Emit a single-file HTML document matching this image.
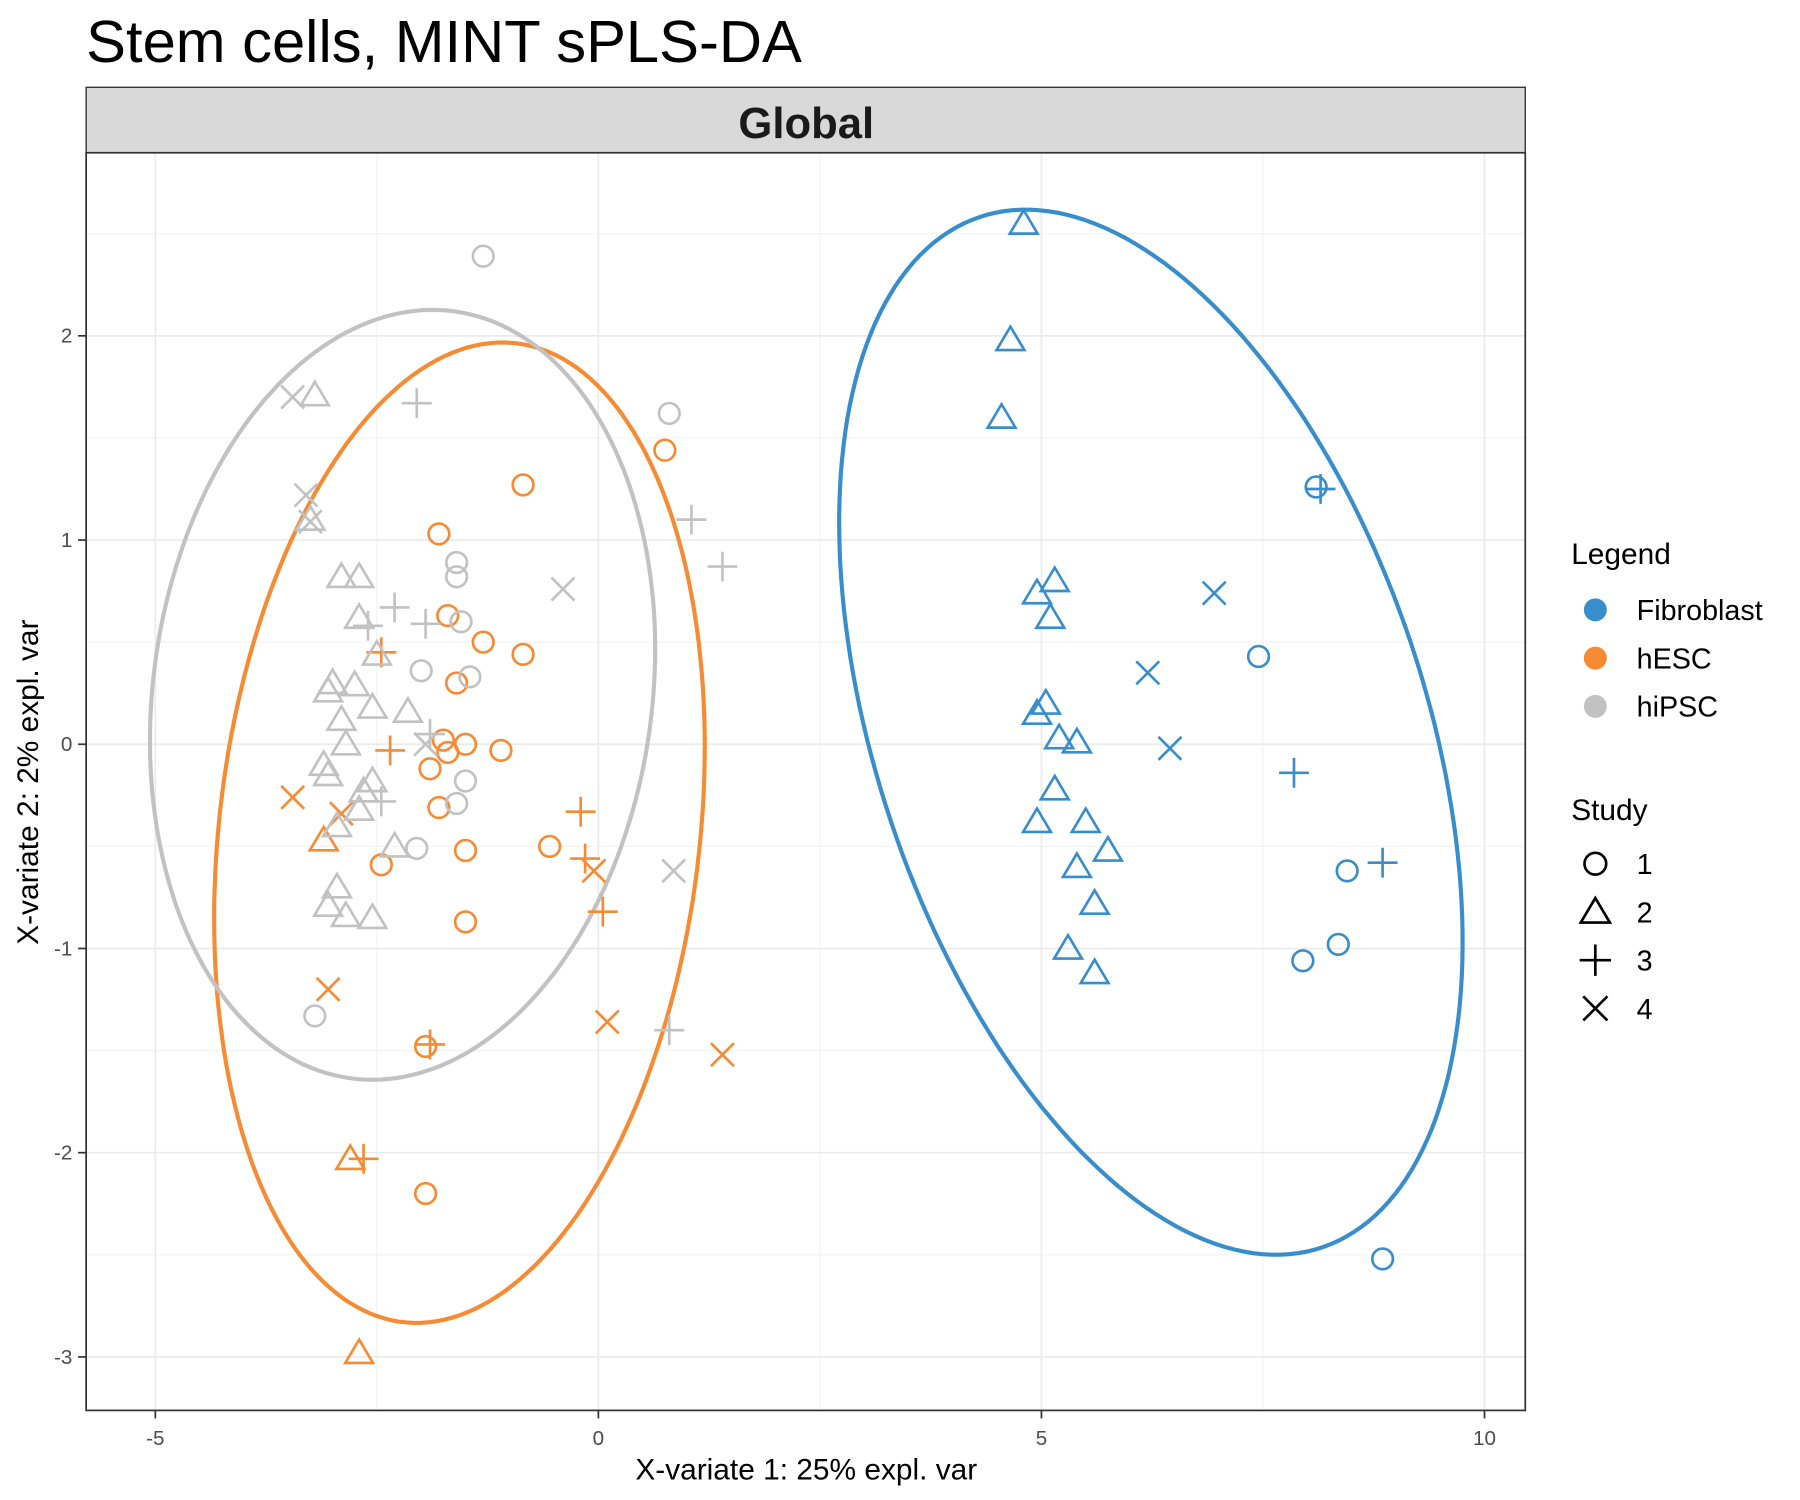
<!DOCTYPE html>
<html><head><meta charset="utf-8"><style>
html,body{margin:0;padding:0;background:#fff;}
svg{display:block;font-family:"Liberation Sans",Arial,sans-serif;}
</style></head><body>
<svg id="chart" width="1800" height="1500" viewBox="0 0 1567.2 1306" xmlns="http://www.w3.org/2000/svg">
<text x="75" y="54" font-size="52">Stem cells, MINT sPLS-DA</text>
<rect x="75" y="76" width="1253" height="57" fill="#d9d9d9" stroke="#333" stroke-width="1.2"/>
<text x="702" y="120" font-size="38" font-weight="bold" text-anchor="middle" fill="#1a1a1a">Global</text>
<g id="grid"></g>
<g id="ellipses"></g>
<g id="points"></g>
<rect x="75" y="133" width="1253" height="1095" fill="none" stroke="#333" stroke-width="1.5"/>
<g id="axes"></g>
<text x="702" y="1288" font-size="26" text-anchor="middle">X-variate 1: 25% expl. var</text>
<text transform="translate(33,681) rotate(-90)" font-size="26" text-anchor="middle">X-variate 2: 2% expl. var</text>
<g id="legend"></g>
</svg>
<script>
const xTicks=[-5,0,5,10];
const yTicks=[2,1,0,-1,-2,-3];
const groups=['Fibroblast','hESC','hiPSC'];
const colors=['#388ECC','#F68B33','#C2C2C2'];
const studies=['1','2','3','4'];
// [x, y, study]
const fibroblastPts=[[8.1,1.26,1],[7.45,0.43,1],[8.45,-0.62,1],[8.35,-0.98,1],[7.95,-1.06,1],[8.85,-2.52,1],
[4.8,2.55,2],[4.65,1.98,2],[4.55,1.6,2],[5.15,0.8,2],[4.95,0.74,2],[5.1,0.62,2],[5.05,0.2,2],[4.95,0.15,2],[5.2,0.03,2],[5.4,0.01,2],[5.15,-0.22,2],[4.95,-0.38,2],[5.5,-0.38,2],[5.75,-0.52,2],[5.4,-0.6,2],[5.6,-0.78,2],[5.3,-1.0,2],[5.6,-1.12,2],
[8.15,1.25,3],[7.85,-0.14,3],[8.85,-0.58,3],
[6.95,0.74,4],[6.2,0.35,4],[6.45,-0.02,4]];
const hescPts=[[0.75,1.44,1],[-0.85,1.27,1],[-1.8,1.03,1],[-1.7,0.63,1],[-1.3,0.5,1],[-0.85,0.44,1],[-1.6,0.3,1],[-1.5,0.0,1],[-1.1,-0.03,1],[-1.75,0.02,1],[-1.7,-0.04,1],[-1.9,-0.12,1],[-1.8,-0.31,1],[-0.55,-0.5,1],[-1.5,-0.52,1],[-2.45,-0.59,1],[-1.5,-0.87,1],[-1.95,-1.48,1],[-1.95,-2.2,1],
[-3.1,-0.47,2],[-2.8,-2.03,2],[-2.7,-2.98,2],
[-2.45,0.45,3],[-2.35,-0.03,3],[-0.2,-0.33,3],[-0.15,-0.56,3],[0.05,-0.82,3],[-1.9,-1.47,3],[-2.65,-2.03,3],
[-3.45,-0.26,4],[-2.9,-0.34,4],[-0.05,-0.62,4],[-3.05,-1.2,4],[0.1,-1.36,4],[1.4,-1.52,4]];
const hipscPts=[[-1.3,2.39,1],[0.8,1.62,1],[-1.6,0.89,1],[-1.6,0.82,1],[-1.55,0.6,1],[-2.0,0.36,1],[-1.45,0.33,1],[-1.5,-0.18,1],[-1.6,-0.29,1],[-2.05,-0.51,1],[-3.2,-1.33,1],
[-3.2,1.71,2],[-3.25,1.1,2],[-2.9,0.82,2],[-2.7,0.82,2],[-2.7,0.62,2],[-2.5,0.44,2],[-3.0,0.3,2],[-3.05,0.26,2],[-2.75,0.29,2],[-2.55,0.18,2],[-2.9,0.12,2],[-3.1,-0.1,2],[-2.85,0.0,2],[-3.05,-0.15,2],[-2.55,-0.18,2],[-2.65,-0.23,2],[-2.7,-0.32,2],[-2.95,-0.4,2],[-2.15,0.16,2],[-2.3,-0.5,2],[-2.95,-0.7,2],[-3.05,-0.79,2],[-2.85,-0.84,2],[-2.55,-0.85,2],
[-2.05,1.67,3],[1.05,1.1,3],[1.4,0.87,3],[-2.3,0.67,3],[-2.6,0.58,3],[-1.95,0.59,3],[-1.9,0.05,3],[-2.45,-0.28,3],[0.8,-1.4,3],
[-3.45,1.7,4],[-3.3,1.22,4],[-3.25,1.09,4],[-0.4,0.76,4],[-1.95,0.0,4],[0.85,-0.62,4]];
// ellipse: center x,y ; conjugate vectors u, w (data units)
const fibroblastEllipse=[6.235,0.059,-1.257,2.556,3.286,-0.122];
const hescEllipse=[-1.568,-0.433,0.428,2.40,2.735,0.05];
const hipscEllipse=[-2.21,0.242,0.246,1.884,2.84,0.062];

const NS='http://www.w3.org/2000/svg';
const sx=v=>521+v*77.15;
const sy=v=>648-v*177.8;
function mk(tag,attrs,parent){const e=document.createElementNS(NS,tag);for(const k in attrs)e.setAttribute(k,attrs[k]);parent.appendChild(e);return e;}

const grid=document.getElementById('grid');
[-2.5,2.5,7.5].forEach(v=>{const l=mk('line',{x1:sx(v),x2:sx(v),y1:133,y2:1228,stroke:'#f3f3f3','stroke-width':1},grid);

});
[2.5,1.5,0.5,-0.5,-1.5,-2.5].forEach(v=>{const l=mk('line',{x1:75,x2:1328,y1:sy(v),y2:sy(v),stroke:'#f3f3f3','stroke-width':1},grid);

});
xTicks.forEach(v=>{const l=mk('line',{x1:sx(v),x2:sx(v),y1:133,y2:1228,stroke:'#ebebeb','stroke-width':1.5},grid);

});
yTicks.forEach(v=>{const l=mk('line',{x1:75,x2:1328,y1:sy(v),y2:sy(v),stroke:'#ebebeb','stroke-width':1.5},grid);

});

const axes=document.getElementById('axes');
xTicks.forEach(v=>{const t=mk('line',{x1:sx(v),x2:sx(v),y1:1228,y2:1235,stroke:'#333','stroke-width':1.5},axes);


const tx=mk('text',{x:sx(v),y:1258,'font-size':18,'text-anchor':'middle',fill:'#4d4d4d'},axes);tx.textContent=v;

});
yTicks.forEach(v=>{const t=mk('line',{x1:68,x2:75,y1:sy(v),y2:sy(v),stroke:'#333','stroke-width':1.5},axes);


const tx=mk('text',{x:63,y:sy(v)+6,'font-size':18,'text-anchor':'end',fill:'#4d4d4d'},axes);tx.textContent=v;

});

const eg=document.getElementById('ellipses');
[fibroblastEllipse,hescEllipse,hipscEllipse].forEach((e,i)=>{let d='';
for(let k=0;k<=200;k++){const t=k/200*2*Math.PI;const x=e[0]+e[2]*Math.cos(t)+e[4]*Math.sin(t);const y=e[1]+e[3]*Math.cos(t)+e[5]*Math.sin(t);d+=(k?'L':'M')+sx(x).toFixed(1)+' '+sy(y).toFixed(1);}
const p=mk('path',{d:d+'Z',fill:'none',stroke:colors[i],'stroke-width':3.6},eg);

});

function marker(parent,cx,cy,s,c,sc){
 const a={fill:'none',stroke:c,'stroke-width':2.3};
 if(s==1){return mk('circle',Object.assign({cx:cx,cy:cy,r:9*sc},a),parent);}
 if(s==2){const h=11*sc;return mk('path',Object.assign({d:`M${cx} ${cy-h*1.05}L${cx+h*1.1} ${cy+h*0.8}L${cx-h*1.1} ${cy+h*0.8}Z`},a),parent);}
 if(s==3){const h=13*sc;return mk('path',Object.assign({d:`M${cx-h} ${cy}H${cx+h}M${cx} ${cy-h}V${cy+h}`},a),parent);}
 const h=10*sc;return mk('path',Object.assign({d:`M${cx-h} ${cy-h}L${cx+h} ${cy+h}M${cx-h} ${cy+h}L${cx+h} ${cy-h}`},a),parent);
}
const pg=document.getElementById('points');
[fibroblastPts,hescPts,hipscPts].forEach((arr,i)=>{arr.forEach(p=>{const m=marker(pg,sx(p[0]),sy(p[1]),p[2],colors[i],1);

});});

const lg=document.getElementById('legend');
let t=mk('text',{x:1368,y:491,'font-size':26},lg);t.textContent='Legend';


groups.forEach((g,i)=>{const y=531+i*42;
const c=mk('circle',{cx:1389,cy:y,r:10,fill:colors[i]},lg);


const tx=mk('text',{x:1425,y:y+9,'font-size':25},lg);tx.textContent=g;

});
t=mk('text',{x:1368,y:714,'font-size':26},lg);t.textContent='Study';


studies.forEach((s,i)=>{const y=752+i*42;
const m=marker(lg,1389,y,i+1,'#000',1.05);


const tx=mk('text',{x:1425,y:y+9,'font-size':25},lg);tx.textContent=s;

});
</script>
</body></html>
